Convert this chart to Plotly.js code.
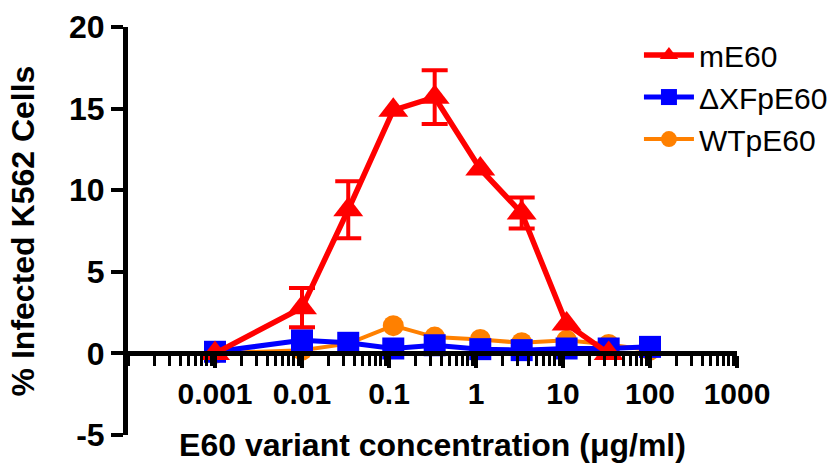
<!DOCTYPE html>
<html>
<head>
<meta charset="utf-8">
<script src="https://cdn.plot.ly/plotly-3.0.1.min.js"></script>
<style>html,body{margin:0;padding:0;background:#fff;}#chart{width:839px;height:463px;}</style>
</head>
<body>
<div id="chart"></div>
<script>
// Concentrations (µg/ml)
const concRed = [0.001, 0.01, 0.034, 0.112, 0.335, 1.12, 3.35, 11, 33.5];
const concBlue = [0.001, 0.01, 0.034, 0.112, 0.335, 1.12, 3.35, 11, 33.5, 100];
const concOrange = [0.001, 0.01, 0.034, 0.112, 0.335, 1.12, 3.35, 11, 33.5, 100];
// % infected K562 cells
const mE60 = [0, 2.8, 8.8, 14.9, 15.7, 11.3, 8.6, 1.8, 0];
const mE60Err = [NaN, 1.2, 1.75, NaN, 1.65, NaN, 0.95, NaN, NaN];
const dXFpE60 = [0.1, 0.8, 0.65, 0.3, 0.5, 0.26, 0.2, 0.3, 0.3, 0.4];
const WTpE60 = [0, 0.2, 0.6, 1.7, 1.0, 0.85, 0.65, 0.8, 0.55, 0.2];
// Tick labels
const xTickVals = [0.001, 0.01, 0.1, 1, 10, 100, 1000];
const xTickText = ['0.001', '0.01', '0.1', '1', '10', '100', '1000'];
const yTickVals = [-5, 0, 5, 10, 15, 20];
const yTickText = ['-5', '0', '5', '10', '15', '20'];

const FONT = 'Liberation Sans, Arial, sans-serif';

const traces = [
  {
    name: 'WTpE60', x: concOrange, y: WTpE60, type: 'scatter', mode: 'lines+markers',
    legendgroup: 'c', cliponaxis: false,
    line: {color: '#FF8000', width: 4},
    marker: {symbol: 'circle', size: 21, color: '#FF8000'}
  },
  {
    name: '\u0394XFpE60', x: concBlue, y: dXFpE60, type: 'scatter', mode: 'lines+markers',
    legendgroup: 'b', cliponaxis: false,
    line: {color: '#0000FF', width: 5},
    marker: {symbol: 'square', size: 22, color: '#0000FF'}
  },
  {
    name: 'mE60', x: concRed, y: mE60, type: 'scatter', mode: 'lines+markers',
    legendgroup: 'a', cliponaxis: false,
    line: {color: '#FF0000', width: 5.5},
    marker: {symbol: 'triangle-up', size: 26, color: '#FF0000'},
    error_y: {type: 'data', array: mE60Err, visible: true, color: '#FF0000', thickness: 4, width: 13}
  }
];

const layout = {
  width: 839, height: 463,
  margin: {l: 128, r: 102, t: 27, b: 28, autoexpand: false},
  paper_bgcolor: '#fff', plot_bgcolor: '#fff',
  showlegend: true,
  font: {family: FONT, color: '#000'},
  legend: {
    x: 0.839, y: 0.995, xanchor: 'left', yanchor: 'top',
    traceorder: 'reversed', tracegroupgap: 21, itemwidth: 50,
    bgcolor: 'rgba(0,0,0,0)',
    font: {family: FONT, size: 30, color: '#000'}
  },
  xaxis: {
    type: 'log', range: [-4, 3],
    anchor: 'free', position: 0.2,
    showline: true, linecolor: '#000', linewidth: 5,
    ticks: 'outside', ticklen: 12, tickwidth: 4, tickcolor: '#000',
    tickvals: xTickVals, ticktext: xTickText,
    tickfont: {family: FONT, size: 30, weight: 'bold', color: '#000'},
    minor: {ticks: 'outside', ticklen: 10, tickwidth: 3, tickcolor: '#000', dtick: 'D1', showgrid: false},
    showgrid: false, zeroline: false,
    title: {text: 'E60 variant concentration (\u03bcg/ml)', standoff: 29,
            font: {family: FONT, size: 32, weight: 'bold', color: '#000'}}
  },
  yaxis: {
    range: [-5, 20], tickvals: yTickVals, ticktext: yTickText,
    showline: true, linecolor: '#000', linewidth: 5,
    ticks: 'outside', ticklen: 12, tickwidth: 4, tickcolor: '#000',
    tickfont: {family: FONT, size: 32, weight: 'bold', color: '#000'},
    showgrid: false, zeroline: false,
    title: {text: '% Infected K562 Cells', standoff: 26,
            font: {family: FONT, size: 32, weight: 'bold', color: '#000'}}
  }
};

Plotly.newPlot('chart', traces, layout, {displayModeBar: false, staticPlot: true});
</script>
</body>
</html>
